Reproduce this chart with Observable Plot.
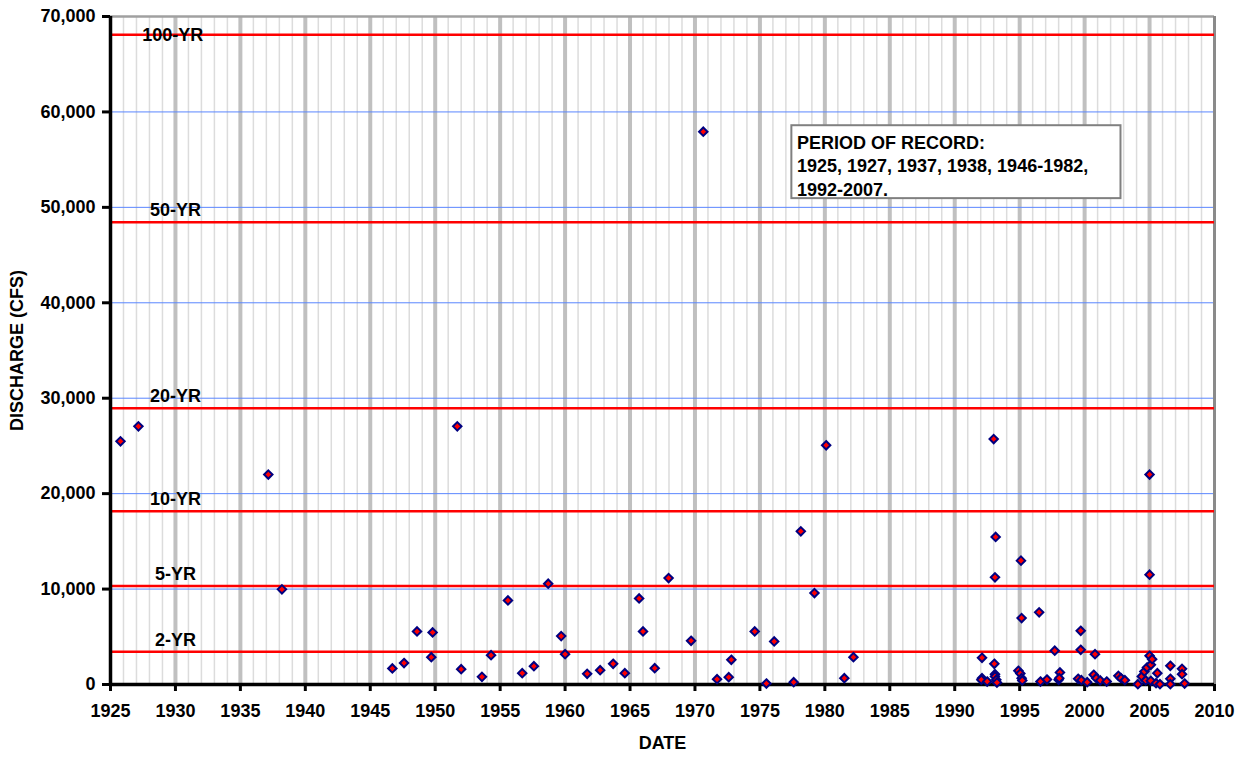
<!DOCTYPE html>
<html><head><meta charset="utf-8">
<script src="https://cdn.jsdelivr.net/npm/d3@7"></script>
<script src="https://cdn.jsdelivr.net/npm/@observablehq/plot@0.6"></script>
<style>body{margin:0;background:#fff;} #chart svg{display:block;}</style>
</head><body><div id="chart"></div>
<script>
// Peak discharge events (decimal year) and discharge in CFS
const dates = [
 1925.77, 1927.15, 1937.15, 1938.2,
 1946.7, 1947.6, 1948.6, 1949.8, 1949.7, 1951.7, 1952.0, 1953.6, 1954.3, 1955.6,
 1956.7, 1957.6, 1958.7, 1959.7, 1960.0, 1961.7, 1962.7, 1963.7, 1964.6, 1965.7,
 1966.0, 1966.9, 1967.97, 1969.7, 1970.64, 1971.7, 1972.6, 1972.8, 1974.6, 1975.5,
 1976.1, 1977.6, 1978.15, 1979.2, 1980.1, 1981.5, 1982.2,
 1992.1, 1992.1, 1992.05, 1992.5, 1993.0, 1993.15, 1993.1, 1993.05, 1993.1, 1993.1,
 1993.2, 1993.25, 1994.9, 1995.05, 1995.1, 1995.15, 1995.15, 1995.2, 1996.5, 1996.6,
 1997.1, 1997.7, 1998.0, 1998.1, 1998.05, 1999.5, 1999.7, 1999.7, 1999.75, 2000.2,
 2000.8, 2000.7, 2000.9, 2001.2, 2001.7, 2002.6, 2002.8, 2003.1, 2004.1, 2004.4,
 2004.6, 2004.7, 2004.8, 2005.0, 2005.0, 2005.0, 2005.1, 2005.2, 2005.1, 2005.5,
 2005.6, 2005.8, 2006.6, 2006.6, 2006.6, 2007.5, 2007.5, 2007.7
];
const discharge = [
 25480, 27050, 22000, 9970,
 1680, 2250, 5560, 5460, 2860, 27050, 1600, 800, 3070, 8810,
 1190, 1920, 10560, 5070, 3180, 1120, 1500, 2170, 1190, 9020,
 5560, 1710, 11150, 4580, 57930, 560, 770, 2590, 5560, 100,
 4510, 240, 16050, 9580, 25070, 660, 2860,
 2800, 660, 490, 310, 25720, 15460, 11230, 2170, 1080, 840,
 490, 200, 1440, 1150, 12980, 6960, 660, 420, 7560, 310,
 520, 3540, 490, 1260, 660, 600, 5630, 3640, 450, 240,
 3180, 1020, 660, 420, 310, 910, 660, 450, 30, 840,
 1360, 420, 1780, 22000, 11510, 3010, 2070, 2650, 380, 140,
 1190, 30, 1960, 600, 30, 1640, 1080, 100
];
// Return-period flood levels
const returnLabels = ["100-YR", "50-YR", "20-YR", "10-YR", "5-YR", "2-YR"];
const returnValues = [68080, 48440, 28940, 18160, 10310, 3430];
// Axis ticks
const xTicks = [1925, 1930, 1935, 1940, 1945, 1950, 1955, 1960, 1965, 1970, 1975, 1980, 1985, 1990, 1995, 2000, 2005, 2010];
const yTicks = [0, 10000, 20000, 30000, 40000, 50000, 60000, 70000];
const recordLines = ["PERIOD OF RECORD:", "1925, 1927, 1937, 1938, 1946-1982,", "1992-2007."];

const points = dates.map((d, i) => ({date: d, q: discharge[i]}));
const returns = returnLabels.map((l, i) => ({label: l, value: returnValues[i]}));
const minorYears = d3.range(1926, 2010).filter(y => y % 5 !== 0);
const majorYears = xTicks.filter(y => y > 1925 && y < 2010);
const blueLines = yTicks.filter(v => v > 0 && v < 70000);

const font = "'Liberation Sans', Arial, Helvetica, sans-serif";

const chart = Plot.plot({
  width: 1247,
  height: 757,
  marginLeft: 110,
  marginRight: 33,
  marginTop: 16,
  marginBottom: 73,
  style: {fontFamily: font, fontWeight: "bold", fontSize: "18px", color: "#000", background: "#fff"},
  x: {domain: [1925, 2010]},
  y: {domain: [0, 70000]},
  marks: [
    Plot.ruleX(minorYears, {stroke: "#dcdcdc", strokeWidth: 1.5}),
    Plot.ruleX(majorYears, {stroke: "#c0c0c0", strokeWidth: 4}),
    Plot.ruleY(blueLines, {stroke: "#5a86ff", strokeWidth: 1}),
    Plot.ruleY([70000], {stroke: "#a0a0a0", strokeWidth: 2.5}),
    Plot.ruleX([2010], {stroke: "#8a8a8a", strokeWidth: 3}),
    Plot.ruleY(returns, {y: "value", stroke: "#ff0000", strokeWidth: 2.5}),
    Plot.text(returns.filter(d => d.label === "100-YR"), {x: () => 1929.8, y: "value", text: "label", textAnchor: "middle", lineAnchor: "middle", fontSize: 18, fontWeight: "bold", fill: "#000"}),
    Plot.text(returns.filter(d => d.label !== "100-YR"), {x: () => 1930.0, y: "value", text: "label", textAnchor: "middle", lineAnchor: "middle", dy: -12, fontSize: 18, fontWeight: "bold", fill: "#000"}),
    Plot.axisY({ticks: yTicks, tickFormat: d3.format(","), tickSize: 8, tickPadding: 7, strokeWidth: 3, fontSize: 18,
      label: "DISCHARGE (CFS)", labelAnchor: "center", labelOffset: 100, labelArrow: "none"}),
    Plot.axisX({ticks: xTicks, tickFormat: d3.format("d"), tickSize: 7, tickPadding: 13, strokeWidth: 3, fontSize: 18,
      label: "DATE", labelAnchor: "center", labelOffset: 64, labelArrow: "none"}),
    Plot.ruleX([1925], {stroke: "#000", strokeWidth: 3.5}),
    Plot.ruleY([0], {stroke: "#000", strokeWidth: 3.5}),
    Plot.rect([{x1: 1977.46, x2: 2002.8, y1: 50915, y2: 58555}], {x1: "x1", x2: "x2", y1: "y1", y2: "y2", fill: "#fff", stroke: "#808080", strokeWidth: 2}),
    Plot.text([recordLines.join("\n")], {x: () => 1977.85, y: () => 57855, textAnchor: "start", lineAnchor: "top", lineHeight: 1.3, fontSize: 18, fontWeight: "bold", fill: "#000"}),
    Plot.dot(points, {x: "date", y: "q", symbol: "diamond2", r: 3.8, fill: "#ff0000", stroke: "#000080", strokeWidth: 2})
  ]
});
document.getElementById("chart").appendChild(chart);
</script>
</body></html>
